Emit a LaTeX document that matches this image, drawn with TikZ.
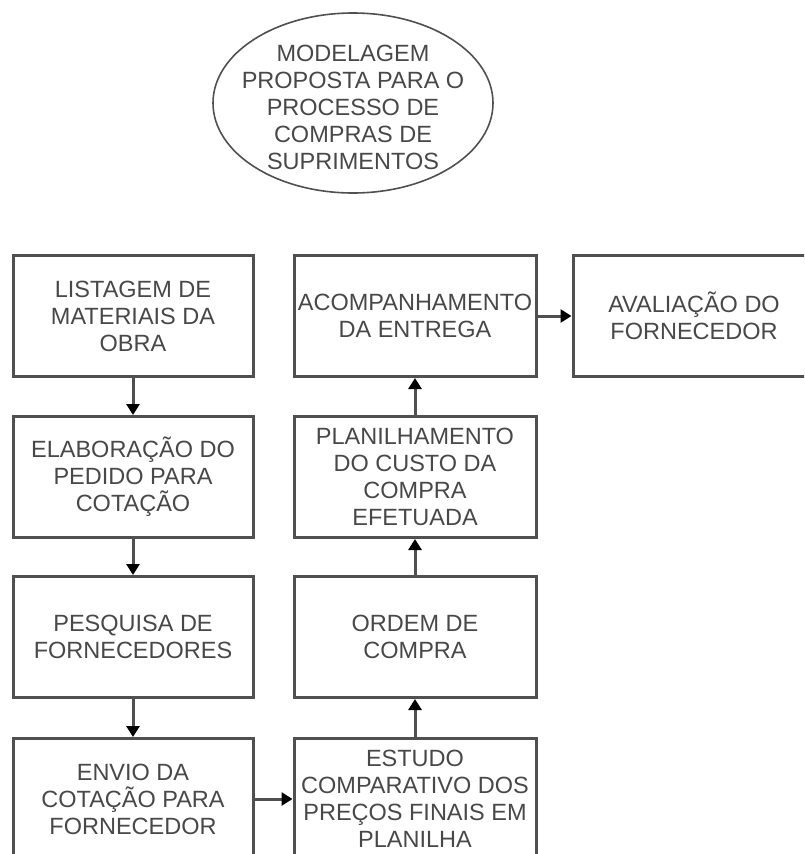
\documentclass[tikz,border=0pt]{standalone}
\usepackage{fontspec}
\setmainfont{Liberation Sans}
\usetikzlibrary{arrows.meta}
\definecolor{edgegray}{HTML}{505050}
\definecolor{txtgray}{HTML}{484848}
\tikzset{
  procbox/.style={draw=edgegray, line width=3pt, rectangle, inner sep=0pt,
    minimum width=240pt, minimum height=121pt, align=center,
    text=txtgray, font=\fontsize{23.5}{27}\selectfont},
  titletext/.style={inner sep=0pt, align=center,
    text=txtgray, font=\fontsize{23.5}{27}\selectfont},
  flow/.style={draw=edgegray, line width=3pt,
    -{Triangle[width=13pt,length=11pt,fill=black,color=black]}}
}
\begin{document}
\begin{tikzpicture}[x=1pt,y=-1pt]
  \useasboundingbox (0,0) rectangle (804,854);
  \clip (0,0) rectangle (804,854);
  \fill[white] (0,0) rectangle (804,854);

  % title oval
  \node[titletext] (title) at (353,107)
    {MODELAGEM\\PROPOSTA PARA O\\PROCESSO DE\\COMPRAS DE\\SUPRIMENTOS};
  \draw[edgegray, line width=1.6pt] (353,103) ellipse [x radius=140pt, y radius=90pt];

  % left column
  \node[procbox] (lista) at (133,316) {LISTAGEM DE\\MATERIAIS DA\\OBRA};
  \node[procbox] (pedido) at (133,477) {ELABORAÇÃO DO\\PEDIDO PARA\\COTAÇÃO};
  \node[procbox] (pesquisa) at (133,637) {PESQUISA DE\\FORNECEDORES};
  \node[procbox] (envio) at (133,799) {ENVIO DA\\COTAÇÃO PARA\\FORNECEDOR};

  % middle column
  \node[procbox, minimum width=242pt] (acomp) at (415,316) {ACOMPANHAMENTO\\DA ENTREGA};
  \node[procbox, minimum width=242pt] (planil) at (415,477) {PLANILHAMENTO\\DO CUSTO DA\\COMPRA\\EFETUADA};
  \node[procbox, minimum width=242pt] (ordem) at (415,637) {ORDEM DE\\COMPRA};
  \node[procbox, minimum width=242pt] (estudo) at (415,799) {ESTUDO\\COMPARATIVO DOS\\PREÇOS FINAIS EM\\PLANILHA};

  % right column
  \node[procbox, minimum width=242pt] (avalia) at (694,316) {AVALIAÇÃO DO\\FORNECEDOR};

  % connectors
  \draw[flow] (lista.south) -- (pedido.north);
  \draw[flow] (pedido.south) -- (pesquisa.north);
  \draw[flow] (pesquisa.south) -- (envio.north);
  \draw[flow] (envio.east) -- (estudo.west);
  \draw[flow] (estudo.north) -- (ordem.south);
  \draw[flow] (ordem.north) -- (planil.south);
  \draw[flow] (planil.north) -- (acomp.south);
  \draw[flow] (acomp.east) -- (avalia.west);
\end{tikzpicture}
\end{document}
